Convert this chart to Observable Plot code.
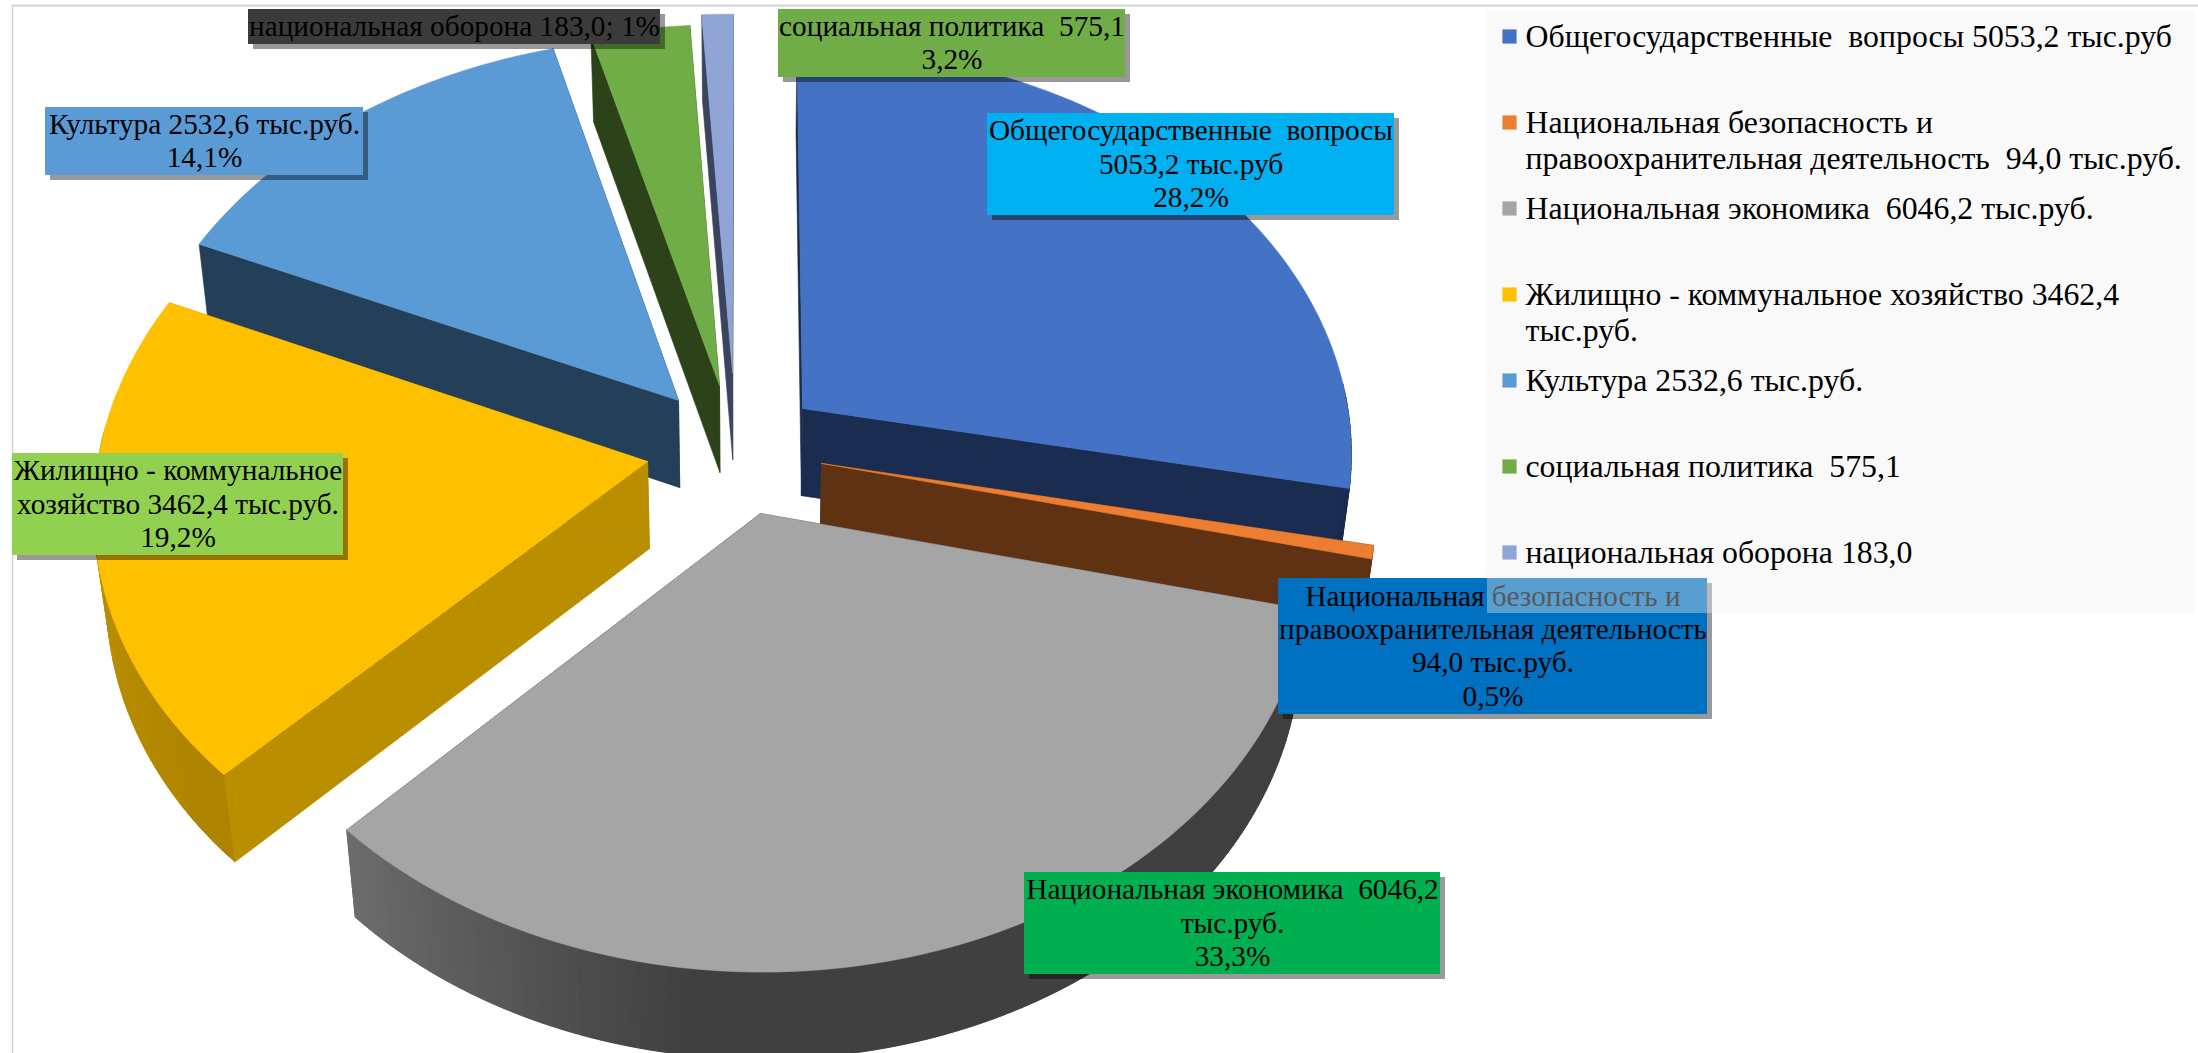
<!DOCTYPE html>
<html>
<head>
<meta charset="utf-8">
<style>
html,body{margin:0;padding:0;background:#fff;overflow:hidden}
svg{display:block}
</style>
<script src="https://cdn.jsdelivr.net/npm/d3@7"></script>
<script src="https://cdn.jsdelivr.net/npm/@observablehq/plot@0.6"></script>
</head>
<body>
<div id="chart"></div>
<script>
// ---- data ----
const categories = [
  "Общегосударственные  вопросы",
  "Национальная безопасность и правоохранительная деятельность",
  "Национальная экономика",
  "Жилищно - коммунальное хозяйство",
  "Культура",
  "социальная политика",
  "национальная оборона"
];
const values = [5053.2, 94.0, 6046.2, 3462.4, 2532.6, 575.1, 183.0];
const legendEntries = [
  "Общегосударственные  вопросы 5053,2 тыс.руб",
  "Национальная безопасность и\nправоохранительная деятельность  94,0 тыс.руб.",
  "Национальная экономика  6046,2 тыс.руб.",
  "Жилищно - коммунальное хозяйство 3462,4\nтыс.руб.",
  "Культура 2532,6 тыс.руб.",
  "социальная политика  575,1",
  "национальная оборона 183,0"
];
const dataLabels = [
  "Общегосударственные  вопросы\n5053,2 тыс.руб\n28,2%",
  "Национальная безопасность и\nправоохранительная деятельность\n94,0 тыс.руб.\n0,5%",
  "Национальная экономика  6046,2\nтыс.руб.\n33,3%",
  "Жилищно - коммунальное\nхозяйство 3462,4 тыс.руб.\n19,2%",
  "Культура 2532,6 тыс.руб.\n14,1%",
  "социальная политика  575,1\n3,2%",
  "национальная оборона 183,0; 1%"
];

// ---- styles ----
const topColors   = ["#4472c4","#ed7d31","#a5a5a5","#ffc000","#5b9bd5","#70ad47","#8fa5d6"];
const wallColors  = ["#1a2c50","#5f3213","#404040","#b98f00","#243f58","#2c4319","#3b445e"];
const rimFrom     = ["#1a2c50","#5f3213","#404040","#ad8300","#243f58","#2c4319","#3b445e"];
const rimTo       = ["#1a2c50","#5f3213","#6e6e6e","#cb9d00","#243f58","#2c4319","#3b445e"];
const rimSpan     = [1,1,0.32,1,1,1,1];
const labelFills  = ["#00b0f0","#0070c0","#00b050","#92d050","#5b9bd5","#70ad47","#3b3b3b"];

// ---- layout: exploded-slice offsets and the perspective of the tilted disc ----
const explodeX = [0.109, 0.1414, 0.0318, -0.170, -0.1164, -0.042, -0.0183];
const explodeY = [-0.0911, 0.0435, 0.163, 0.0389, -0.111, -0.1486, -0.1814];
const radiusK  = [0.99, 0.985, 0.97, 0.985, 1, 1, 1];
const view = {cx:742, cy:445, a:556, b:410, k:0.104, depth:89, far:0.02};
const labelBoxes = [
  [987,1394,113,215],[1278,1707,578,714],[1024,1440,872,974],
  [12,343,453,555],[45,363,107,175],[778,1125,9,77],[248,660,9,44]
];
const drawOrder = [6,5,4,0,1,3,2];
const legendBox = {x1:1487,x2:2194,y1:11,y2:613};

const total = d3.sum(values);
const cum = d3.cumsum(values);
const toRad = f => f * 2 * Math.PI;
function project(X, Y, low) {
  const w = 1 - view.k * Y + (low ? view.far : 0);
  return [view.cx + view.a * X / w, view.cy + (view.b * Y + (low ? view.depth : 0)) / w];
}
const polys = [];
function addPoly(id, pts, fill) {
  [...pts, pts[0]].forEach(p => polys.push({id, x:p[0], y:p[1], fill}));
}
for (const i of drawOrder) {
  const a0 = toRad((cum[i] - values[i]) / total), a1 = toRad(cum[i] / total);
  const ex = explodeX[i], ey = explodeY[i], r = radiusK[i];
  const P = (a, low) => project(ex + r*Math.sin(a), ey - r*Math.cos(a), low);
  const O = low => project(ex, ey, low);
  const n = Math.max(2, Math.ceil((a1 - a0) / (Math.PI/180)));
  const angs = d3.range(n + 1).map(j => a0 + (a1 - a0) * j / n);
  // radial walls
  addPoly(`w0-${i}`, [O(false), P(a0,false), P(a0,true), O(true)], wallColors[i]);
  addPoly(`w1-${i}`, [O(false), P(a1,false), P(a1,true), O(true)], wallColors[i]);
  // outer rim, near half only, shaded along its length; every band overlaps the next one
  const shade = d3.interpolateRgb(rimFrom[i], rimTo[i]);
  for (let j = n - 1; j >= 0; j--) {
    if (Math.cos(angs[j]) > 0.06 && Math.cos(Math.min(angs[j+1], a1)) > 0.06) continue;
    const t = (j + .5) / n;
    const u = Math.max(0, (t - (1 - rimSpan[i])) / rimSpan[i]);
    const next = angs[Math.min(j + 2, n)];
    addPoly(`r-${i}-${j}`, [P(angs[j],false), P(next,false), P(next,true), P(angs[j],true)], shade(u));
  }
  // top
  addPoly(`t-${i}`, [O(false), ...angs.map(a => P(a,false))], topColors[i]);
}

const labels = dataLabels.map((text,i) => {
  const [x1,x2,y1,y2] = labelBoxes[i];
  return {text, x1, x2, y1, y2, fill: labelFills[i], x:(x1+x2)/2, y:(y1+y2)/2 - 1.5};
});
const shadow = 5;
const legend = legendEntries.map((text,i) => ({text, color: topColors[i], x:1509, tx:1525, y:36 + i*86}));
const font = "Liberation Serif";

const chart = Plot.plot({
  width: 2198, height: 1053,
  margin: 0,
  style: {background:"#fff", whiteSpace:"pre"},
  x: {domain:[0,2198], range:[0,2198], axis:null},
  y: {domain:[0,1053], range:[0,1053], axis:null},
  color: {type:"identity"},
  marks: [
    Plot.ruleX([12], {y1:5, y2:1053, stroke:"#d2d2d2", strokeWidth:1.5}),
    Plot.ruleY([5], {x1:12, x2:2198, stroke:"#d2d2d2", strokeWidth:2}),
    Plot.line(polys, {x:"x", y:"y", z:"id", fill:"fill", stroke:"fill", strokeWidth:0.6, curve:"linear"}),
    Plot.rect(labels, {x1:d=>d.x1+shadow, x2:d=>d.x2+shadow, y1:d=>d.y1+shadow, y2:d=>d.y2+shadow, fill:"#000", fillOpacity:0.4}),
    Plot.rect(labels, {x1:"x1", x2:"x2", y1:"y1", y2:"y2", fill:"fill"}),
    Plot.text(labels, {x:"x", y:"y", text:"text", fill:"#000", fontSize:29.3, fontFamily:font, lineHeight:1.14, lineAnchor:"middle"}),
    Plot.rect([legendBox], {x1:"x1", x2:"x2", y1:"y1", y2:"y2", fill:"#f0f0f0", fillOpacity:0.37}),
    Plot.dot(legend, {x:"x", y:"y", symbol:"square", r:8, fill:"color", stroke:null}),
    Plot.text(legend, {x:"tx", y:d=>d.y-15, text:"text", textAnchor:"start", lineAnchor:"top", fill:"#000", fontSize:31.8, fontFamily:font, lineHeight:1.13})
  ]
});
document.getElementById("chart").append(chart);
</script>
</body>
</html>
